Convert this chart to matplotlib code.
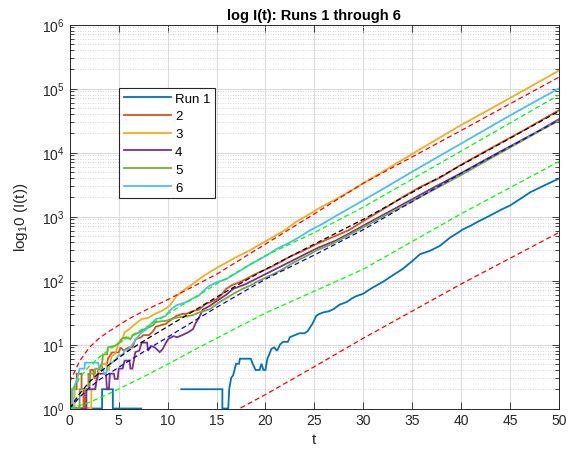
import numpy as np
import matplotlib
matplotlib.use("Agg")
import matplotlib.pyplot as plt
from matplotlib.ticker import LogLocator, MultipleLocator, NullFormatter

plt.rcParams['font.family'] = ['Liberation Sans', 'DejaVu Sans']
plt.rcParams['mathtext.fontset'] = 'custom'
plt.rcParams['mathtext.rm'] = 'Liberation Sans'
plt.rcParams['mathtext.it'] = 'Liberation Sans'

# ---- simulated infection counts I(t) for six runs ----
run1_t = [0, 3.3, 3.3, 4.4, 4.4, 7.3, 7.3, 11.4, 11.4, 15.6, 15.6, 16.2, 16.3, 16.5, 16.7, 17.0, 17.3,
          17.4, 18.0, 18.5, 18.7, 19.0, 19.4, 19.6, 19.8, 20.0, 20.2, 20.4, 20.6, 20.9, 21.2, 21.5, 21.8,
          22.3, 22.5, 23.0, 23.5, 24.0, 24.3, 24.8, 25.2, 25.5, 26.0, 26.5, 27.0, 27.6, 28.3, 28.8, 29.3,
          30.0, 30.5, 31.0, 32.0, 33.0, 34.0, 35.0, 35.8, 36.8, 37.8, 38.9, 39.7, 40.2, 41.0, 41.6, 42.5,
          43.3, 44.2, 45.0, 46.0, 47.1, 48.4, 50.0]
run1_I = [1, 1, 2, 2, 1, 1, 0, 0, 2, 2, 1, 1, 2, 3, 3.3, 5, 5,
          6, 6, 6, 5, 4, 4, 5, 4, 4, 6, 7, 8.5, 9, 8, 10, 11,
          11, 13, 14, 15, 15, 16, 21, 28, 30, 32, 33, 36, 42, 46, 52, 57,
          62, 70, 78, 95, 120, 150, 200, 257, 290, 345, 470, 560, 630, 720, 810, 950,
          1100, 1300, 1480, 1860, 2400, 3000, 3900]

run2_t = [0, 0.2, 0.2, 0.7, 0.7, 1.2, 1.2, 1.4, 1.4, 1.55, 1.55, 2.0, 2.1, 2.4, 2.5, 2.8, 2.9, 3.3,
          3.3, 3.8, 3.9, 4.3, 5.0, 5.2, 5.5, 6.0, 6.4, 6.7, 7.3, 7.5, 8.1, 8.5, 8.8, 9.3, 9.8, 10.3,
          10.9, 11.5, 11.9, 12.5, 13.2, 13.9, 14.4, 15.0, 15.5, 16.0, 16.6, 17.3, 18.0, 18.7, 19.4,
          20.1, 21.0, 21.8, 22.6, 23.5, 24.4, 25.2, 26.2, 27.2, 28.5, 30.35, 32.0, 34.0, 35.8, 37.9,
          39.8, 42.0, 44.0, 46.0, 48.0, 50.0]
run2_I = [1, 1, 2, 2, 3.5, 3.5, 2, 2, 1, 1, 2, 2, 4, 4, 3, 3, 4, 4,
          5, 5, 6, 7.5, 7.5, 9, 8, 9, 9, 12, 13, 14, 14, 16, 19, 20, 21, 24,
          28, 30, 30, 33, 35, 43, 46, 51, 60, 74, 85, 93, 105, 120, 135,
          150, 175, 205, 240, 275, 320, 370, 430, 500, 610, 910, 1290, 2000, 2880, 4070,
          6170, 9500, 14000, 20500, 30500, 45700]

run3_t = [0, 0.1, 0.1, 0.5, 0.5, 2.2, 2.2, 2.6, 2.7, 3.0, 3.4, 3.7, 3.8, 4.0, 4.1, 4.3, 4.6, 4.8,
          5.0, 5.3, 5.6, 6.0, 6.3, 6.7, 7.35, 8.0, 8.7, 9.5, 10.2, 10.9, 11.6, 12.6, 13.4, 14.3, 15.1,
          16.0, 17.2, 18.4, 19.2, 20.1, 21.0, 22.1, 23.1, 24.2, 25.5, 27.2, 28.5, 30.0, 33.0, 36.0,
          39.8, 43.0, 46.5, 50.0]
run3_I = [1, 1, 2, 2, 1, 1, 2, 2, 3, 4, 5, 5, 4, 4, 5, 6.6, 7, 8.5,
          10.7, 11, 15.5, 17, 18.6, 21, 25, 26, 30, 34, 40, 57, 70, 89, 110, 135, 160,
          190, 240, 295, 350, 417, 500, 630, 820, 1020, 1350, 1860, 2400, 3300, 6200, 11700,
          25700, 47900, 95000, 190000]

run4_t = [0, 1.7, 1.7, 2.6, 2.7, 2.9, 3.7, 3.8, 4.0, 4.1, 4.5, 4.6, 4.9, 5.0, 5.4, 5.6, 6.1, 6.2,
          6.4, 6.7, 7.1, 7.35, 7.9, 8.0, 8.3, 8.7, 9.2, 9.5, 9.8, 10.1, 10.6, 11.0, 11.4, 12.1, 12.6,
          12.9, 13.3, 13.6, 14.3, 15.3, 16.0, 16.7, 18.0, 19.5, 21.0, 22.5, 24.0, 25.5, 27.2, 29.0,
          31.0, 33.0, 35.0, 37.5, 39.8, 42.0, 44.0, 46.0, 48.0, 50.0]
run4_I = [1, 1, 2, 2, 2.5, 3.5, 3.5, 2, 2, 3.5, 3.5, 2.9, 2.9, 4.2, 4.2, 5.6, 5.6, 4.2,
          4.2, 7.6, 8, 10.7, 10.7, 8, 9.5, 9, 7.6, 8.5, 10.5, 12.3, 13.5, 13, 13.8, 15.5, 17.4,
          22, 28, 35, 40, 51, 60, 74, 88, 115, 150, 195, 255, 330, 420, 590,
          870, 1270, 1860, 3000, 4570, 7000, 10300, 15000, 22000, 33000]

run5_t = [0, 1.0, 1.0, 1.9, 1.9, 2.6, 2.6, 3.0, 3.3, 3.4, 3.8, 3.9, 4.6, 5.0, 5.3, 5.8, 6.2, 6.4,
          6.7, 7.1, 7.5, 8.1, 8.5, 8.8, 9.3, 9.8, 10.4, 10.9, 11.5, 12.0, 12.6, 13.2, 14.3, 15.3, 16.0,
          16.7, 17.5, 18.4, 19.2, 20.1, 21.0, 21.8, 22.6, 23.5, 24.4, 25.2, 26.2, 27.2, 29.0, 31.0,
          33.0, 35.0, 37.5, 39.8, 42.0, 44.0, 46.0, 48.0, 50.0]
run5_I = [1, 1, 2, 2, 3.5, 3.5, 4.2, 4.2, 5.2, 7, 7, 9, 9.5, 10.5, 12.3, 13, 12, 13.8,
          14.5, 15.5, 17, 18.6, 20, 22.4, 23, 23.4, 25, 26.3, 27, 27.5, 29, 31.6, 35.5, 45.7, 53,
          61.7, 72, 83, 97, 112, 130, 151, 180, 214, 250, 295, 340, 400, 560, 820,
          1200, 1740, 2760, 4270, 6600, 9800, 14500, 21500, 31600]

run6_t = [0, 0.3, 0.3, 0.5, 0.8, 1.0, 1.5, 1.55, 2.9, 3.0, 3.4, 3.5, 3.7, 3.9, 4.3, 4.6, 5.0, 5.4,
          5.6, 6.0, 6.3, 6.8, 7.35, 7.8, 8.1, 8.8, 9.3, 9.8, 10.3, 10.9, 11.9, 12.5, 13.2, 13.7, 14.3,
          15.1, 16.0, 16.8, 17.7, 18.5, 19.4, 20.2, 21.1, 22.0, 22.8, 23.6, 24.5, 25.8, 27.2, 29.0,
          31.0, 33.0, 35.0, 37.5, 39.8, 42.0, 44.0, 46.0, 48.0, 50.0]
run6_I = [1, 1, 2, 2.3, 3, 4.2, 4.2, 5.2, 5.2, 4.2, 4.2, 3.5, 3.5, 4.7, 5.2, 5.6, 6.8, 6.8,
          8, 8.5, 9.5, 12.3, 15.5, 17, 19.5, 25, 26, 28, 35, 41, 46, 52, 58, 70, 83,
          95, 105, 125, 151, 180, 214, 250, 309, 360, 417, 490, 600, 760, 1020, 1460,
          2190, 3300, 5000, 8300, 13200, 20600, 31000, 46000, 68000, 100000]

run_labels = ['Run 1', '2', '3', '4', '5', '6']
run_colors = ['#0072BD', '#D95319', '#EDB120', '#7E2F8E', '#77AC30', '#4DBEEE']

# ---- model curves (dashed) ----
red_hi_t = [0, 1, 2, 3, 4, 5, 6, 8, 10, 12, 15, 20, 25, 30, 40, 50]
red_hi_I = [2.6, 5.5, 9, 12.5, 16, 20, 25, 36, 50, 72, 125, 370, 1100, 3300, 22000, 150000]

green_hi_t = [0, 1, 2, 3, 4, 5, 6, 8, 10, 12, 15, 20, 25, 30, 40, 50]
green_hi_I = [1.5, 3, 4.6, 6.3, 8.2, 10.5, 13, 19.5, 30, 46, 88, 245, 560, 1400, 10500, 79000]

black_t = [0, 1, 2, 3, 4, 5, 6, 8, 10, 12, 15, 20, 25, 30, 40, 50]
black_I = [1, 1.7, 2.6, 3.6, 4.8, 6.2, 8, 12.5, 19, 29, 55, 150, 370, 900, 6300, 44000]

blue_t = [0, 1, 2, 3, 4, 5, 6, 8, 10, 12, 15, 20, 25, 30, 40, 50]
blue_I = [1, 1.5, 2.1, 2.8, 3.5, 4.4, 5.5, 8.5, 13, 20, 38, 105, 250, 620, 4700, 32000]

green_lo_t = [0, 2, 4, 6, 8, 10, 12, 15, 20, 25, 30, 40, 50]
green_lo_I = [1, 1.25, 1.7, 2.4, 3.4, 4.9, 7.2, 12.5, 31, 68, 150, 1100, 7200]

red_lo_t = [16, 20, 25, 30, 40, 50]
red_lo_I = [0.77, 1.65, 4.5, 12.5, 88, 560]

fig = plt.figure(figsize=(5.71, 4.56), dpi=100)
ax = fig.add_axes([69.8 / 571, 46.5 / 456, 489 / 571, 384 / 456])
ax.set_yscale('log', nonpositive='mask')

runs = [(run1_t, run1_I), (run2_t, run2_I), (run3_t, run3_I),
        (run4_t, run4_I), (run5_t, run5_I), (run6_t, run6_I)]
for (t, I), lab, c in zip(runs, run_labels, run_colors):
    ax.plot(t, I, color=c, lw=1.3, label=lab, solid_joinstyle='miter')

dash = (4, 2.5)
for t, I, c in [(red_hi_t, red_hi_I, 'r'), (green_hi_t, green_hi_I, '#00ff00'),
                (black_t, black_I, 'k'), (blue_t, blue_I, 'b'),
                (green_lo_t, green_lo_I, '#00ff00'), (red_lo_t, red_lo_I, 'r')]:
    ax.plot(t, I, color=c, lw=0.9, dashes=dash)

ax.set_xlim(0, 50)
ax.set_ylim(1, 1e6)
ax.xaxis.set_major_locator(MultipleLocator(5))
ax.yaxis.set_major_locator(LogLocator(base=10, numticks=10))
ax.yaxis.set_minor_locator(LogLocator(base=10, subs=np.arange(2, 10), numticks=20))
ax.yaxis.set_minor_formatter(NullFormatter())

ax.grid(True, which='major', color='#dcdcdc', lw=0.8, ls='-')
ax.grid(True, which='minor', axis='y', color='#c8c8c8', lw=0.6, ls=(0, (1, 2)))
ax.set_axisbelow(True)

ax.tick_params(which='both', direction='in', top=True, right=True, colors='#262626',
               labelsize=10, width=0.6)
ax.tick_params(which='major', length=5)
ax.tick_params(which='minor', length=3)
for s in ax.spines.values():
    s.set_color('#262626')
    s.set_linewidth(0.7)

ax.set_title('log I(t): Runs 1 through 6', fontsize=10.5, fontweight='bold', color='black', pad=4)
ax.set_xlabel('t', fontsize=11, color='#262626', labelpad=3)
ax.set_ylabel('log$_1$0 (I(t))', fontsize=11, color='#262626', labelpad=9)

leg = ax.legend(loc='upper left', bbox_to_anchor=(0.1006, 0.835), borderaxespad=0,
                fancybox=False, framealpha=1, edgecolor='#262626', fontsize=9.5,
                handlelength=3.6, labelspacing=0.42, handletextpad=0.3,
                borderpad=0.35)
leg.get_frame().set_linewidth(0.8)

fig.savefig('out.png', dpi=100)
